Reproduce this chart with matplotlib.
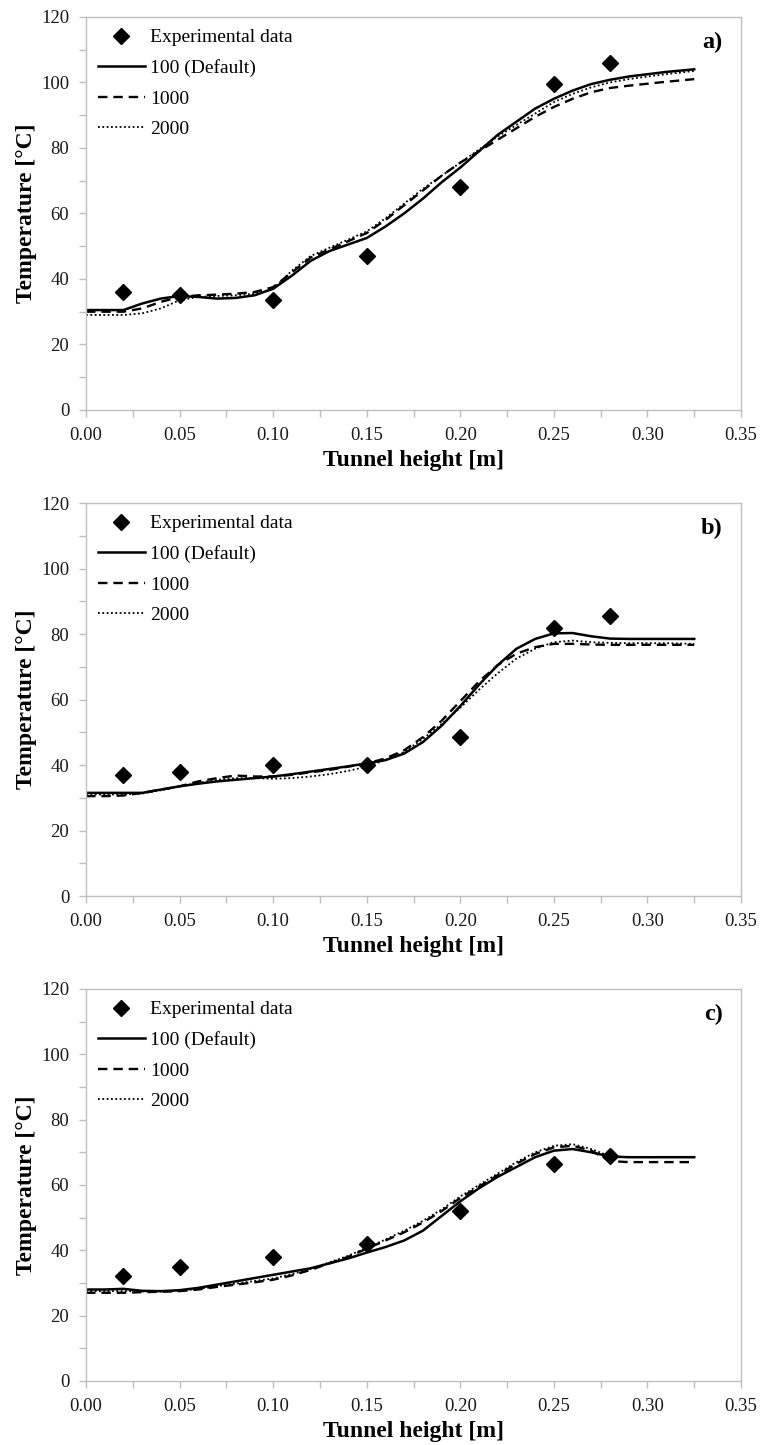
import matplotlib
matplotlib.use("Agg")
import matplotlib.pyplot as plt
from matplotlib.ticker import MultipleLocator, FormatStrFormatter

plt.rcParams["font.family"] = ["Liberation Serif", "DejaVu Serif"]

# Tunnel height grid of the simulated profiles [m]
height = [0.00, 0.01, 0.02, 0.03, 0.04, 0.05, 0.06, 0.07, 0.08, 0.09,
          0.10, 0.11, 0.12, 0.13, 0.14, 0.15, 0.16, 0.17, 0.18, 0.19,
          0.20, 0.21, 0.22, 0.23, 0.24, 0.25, 0.26, 0.27, 0.28, 0.29,
          0.30, 0.31, 0.325]

# Measurement positions [m]
exp_height = [0.02, 0.05, 0.10, 0.15, 0.20, 0.25, 0.28]

# a)
exp_a = [36, 35, 33.5, 47, 68, 99.5, 106]
t100_a = [30.5, 30.5, 30.5, 32.5, 34, 34.8, 34.5, 34, 34.2, 35,
          37, 41, 45.5, 48.5, 50.5, 52.5, 56, 60, 64.5, 69.5,
          74, 79, 84, 88, 92, 95, 97.5, 99.5, 100.8, 101.8,
          102.5, 103.2, 104]
t1000_a = [30, 30, 30, 31, 33, 34.5, 35, 35.2, 35.5, 36,
           37.5, 42, 46.5, 49, 51.5, 54, 58, 62.5, 67, 71.5,
           75.5, 79, 82.5, 86, 89.5, 92.5, 95, 97, 98.3, 99,
           99.6, 100.2, 101]
t2000_a = [29, 29, 29, 29.5, 31, 33.5, 34.5, 34.8, 35, 35.5,
           37, 42.5, 47, 49.5, 52, 54.5, 58.5, 63, 67.5, 71.5,
           75.5, 79.5, 83.5, 87, 90.5, 94, 96.5, 98.5, 100, 101,
           101.8, 102.5, 103.5]

# b)
exp_b = [37, 38, 40, 40, 48.5, 81.8, 85.5]
t100_b = [31.5, 31.5, 31.5, 31.5, 32.5, 33.5, 34.3, 35, 35.5, 36,
          36.5, 37.2, 38, 38.8, 39.6, 40.5, 41.5, 43.5, 47, 52,
          58, 64.5, 70.5, 75.5, 78.5, 80.2, 80.3, 79.3, 78.6, 78.5,
          78.5, 78.5, 78.5]
t1000_b = [30.5, 30.5, 30.7, 31.5, 32.5, 33.5, 35, 36, 36.8, 36.5,
           36.5, 37, 37.8, 38.5, 39.5, 40.5, 42, 44.5, 48.5, 53.5,
           59.5, 65.5, 70.5, 74, 76, 77, 77, 76.8, 76.7, 76.7,
           76.7, 76.7, 76.7]
t2000_b = [31, 31, 31, 31.3, 32.3, 33.5, 34.5, 35.5, 36, 36,
           35.8, 36, 36.5, 37.2, 38.2, 39.5, 41.5, 44, 48, 52.5,
           57.5, 63, 68, 72.5, 75.5, 77.5, 78, 77.5, 77.3, 77.2,
           77.2, 77.2, 77]

# c)
exp_c = [32, 35, 38, 42, 52, 66.5, 69]
t100_c = [28, 28, 28.2, 27.6, 27.5, 27.8, 28.5, 29.5, 30.5, 31.5,
          32.5, 33.5, 34.5, 36, 37.5, 39.3, 41, 43, 46, 50.5,
          55, 59, 62.5, 65.5, 68.5, 70.5, 71, 70, 68.7, 68.5,
          68.5, 68.5, 68.5]
t1000_c = [27, 27, 27, 27.2, 27.3, 27.5, 28, 28.8, 29.5, 30.2,
           31, 32.3, 34, 36, 38, 40.5, 43, 45.5, 48.5, 52,
           56, 59.5, 63, 66.5, 69.5, 71.5, 72, 70.5, 67.3, 67,
           67, 67, 67]
t2000_c = [27.5, 27.5, 27.5, 27.4, 27.4, 27.6, 28.2, 29, 29.8, 30.6,
           31.4, 32.7, 34.3, 36.3, 38.3, 40.8, 43.3, 46, 49, 52.5,
           56.5, 60, 63.5, 67, 70, 72, 72.5, 71, 68.8, 68.5,
           68.5, 68.5, 68.5]

panels = [
    ("a)", exp_a, t100_a, t1000_a, t2000_a),
    ("b)", exp_b, t100_b, t1000_b, t2000_b),
    ("c)", exp_c, t100_c, t1000_c, t2000_c),
]

FRAME = "#bfbfbf"
TEXT = "#1a1a1a"

fig = plt.figure(figsize=(7.6, 14.45), dpi=100)
boxes = [(0.1132, 0.7163, 0.8618, 0.2720),
         (0.1132, 0.3799, 0.8618, 0.2720),
         (0.1132, 0.0443, 0.8618, 0.2713)]

for box, (tag, exp, t100, t1000, t2000) in zip(boxes, panels):
    ax = fig.add_axes(box)
    ax.plot(exp_height, exp, linestyle="none", marker="D", markersize=8.5,
            color="black", label="Experimental data", zorder=5)
    ax.plot(height, t100, color="black", lw=1.8, label="100 (Default)")
    ax.plot(height, t1000, color="black", lw=1.7, dashes=(4, 2.5), label="1000")
    ax.plot(height, t2000, color="black", lw=1.3, dashes=(1, 1.4), label="2000")

    ax.set_xlim(0, 0.35)
    ax.set_ylim(0, 120)
    ax.xaxis.set_major_locator(MultipleLocator(0.05))
    ax.xaxis.set_minor_locator(MultipleLocator(0.025))
    ax.xaxis.set_major_formatter(FormatStrFormatter("%.2f"))
    ax.yaxis.set_major_locator(MultipleLocator(20))
    ax.yaxis.set_minor_locator(MultipleLocator(10))

    for s in ax.spines.values():
        s.set_color(FRAME)
        s.set_linewidth(1.0)
    ax.tick_params(which="both", direction="out", color=FRAME, width=1.0,
                   length=5, labelsize=13.5, labelcolor=TEXT)
    ax.tick_params(axis="y", pad=7)
    ax.tick_params(axis="x", pad=7.5)

    ax.set_xlabel("Tunnel height [m]", fontsize=17, fontweight="bold", labelpad=4)
    ax.set_ylabel("Temperature [°C]", fontsize=17, fontweight="bold", labelpad=3)

    ax.text(0.972, 0.934, tag, transform=ax.transAxes, ha="right", va="center",
            fontsize=17.5, fontweight="bold")

    ax.legend(loc="upper left", bbox_to_anchor=(0.018, 0.970), frameon=False,
              fontsize=14, handlelength=2.42, handletextpad=0.26,
              labelspacing=0.66, borderpad=0, borderaxespad=0)

fig.savefig("out.png", dpi=100)
